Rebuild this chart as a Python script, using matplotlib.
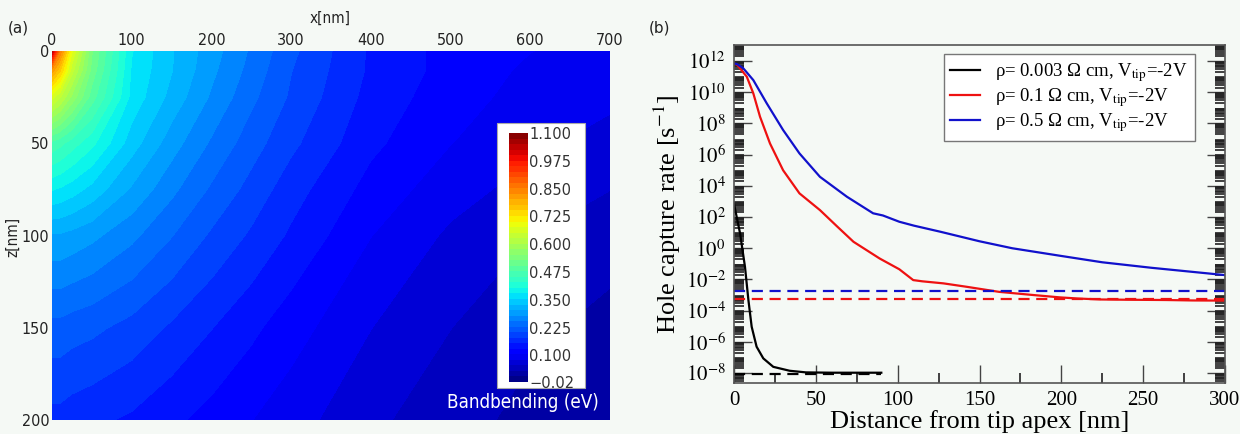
import numpy as np
import matplotlib.pyplot as plt
from matplotlib.patches import Rectangle
from matplotlib.ticker import LogLocator, FixedLocator, MultipleLocator, FuncFormatter, NullFormatter

# ---------------- (a) band bending map ----------------
bb_x = [0, 10, 25, 50, 100, 150, 200, 250, 300, 400, 500, 600, 700]   # nm
bb_z = [0, 10, 25, 50, 75, 100, 150, 200]                             # nm
# one list per x column, top (z=0) to bottom (z=200)
bb_x0   = [1.05, 0.82, 0.66, 0.47, 0.38, 0.30, 0.22, 0.17]
bb_x10  = [0.85, 0.76, 0.63, 0.46, 0.375, 0.30, 0.22, 0.17]
bb_x25  = [0.68, 0.64, 0.57, 0.44, 0.365, 0.295, 0.215, 0.165]
bb_x50  = [0.53, 0.52, 0.49, 0.41, 0.345, 0.285, 0.21, 0.16]
bb_x100 = [0.38, 0.375, 0.37, 0.34, 0.30, 0.26, 0.195, 0.15]
bb_x150 = [0.33, 0.33, 0.32, 0.29, 0.26, 0.23, 0.175, 0.135]
bb_x200 = [0.29, 0.285, 0.275, 0.25, 0.225, 0.20, 0.155, 0.12]
bb_x250 = [0.25, 0.245, 0.235, 0.215, 0.195, 0.175, 0.135, 0.105]
bb_x300 = [0.21, 0.205, 0.20, 0.185, 0.165, 0.15, 0.115, 0.09]
bb_x400 = [0.15, 0.15, 0.145, 0.135, 0.12, 0.105, 0.08, 0.06]
bb_x500 = [0.12, 0.12, 0.115, 0.105, 0.09, 0.075, 0.055, 0.04]
bb_x600 = [0.105, 0.10, 0.095, 0.085, 0.07, 0.055, 0.035, 0.022]
bb_x700 = [0.095, 0.09, 0.085, 0.07, 0.055, 0.04, 0.022, 0.01]
cbar_ticks = [-0.02, 0.100, 0.225, 0.350, 0.475, 0.600, 0.725, 0.850, 0.975, 1.100]
cbar_labels = ["\u22120.02", "0.100", "0.225", "0.350", "0.475", "0.600", "0.725", "0.850", "0.975", "1.100"]

# ---------------- (b) hole capture rate ----------------
black_x = [0, 1.5, 3.7, 6.7, 8.8, 10.8, 13.8, 17.9, 24, 34, 44, 60, 75, 90]
black_y = [7e2, 1.2e2, 9.0, 6.5e-2, 4.8e-4, 9.3e-6, 4.9e-7, 8.7e-8, 2.5e-8, 1.4e-8, 1.1e-8, 1.05e-8, 1.05e-8, 1.05e-8]

red_x = [0, 2, 7.8, 11.8, 15.9, 22, 30, 40, 52.5, 63, 73, 89, 101, 109.5, 115, 128, 142, 162, 183, 199, 210, 224, 240, 264, 280, 300]
red_y = [7.1e11, 5.6e11, 1.0e11, 8.5e9, 2.7e8, 5.2e6, 1.0e5, 3.3e3, 280, 25, 2.6, 0.22, 0.045, 9.1e-3, 7.6e-3,
         5.6e-3, 3.4e-3, 1.6e-3, 1.0e-3, 7.1e-4, 6.0e-4, 5.2e-4, 5.0e-4, 4.8e-4, 4.5e-4, 4.4e-4]

blue_x = [0, 2, 5.7, 11.8, 20, 30, 40, 52.5, 69, 85, 91, 101, 110, 126, 150, 170, 200, 225, 255, 300]
blue_y = [7.1e11, 6.3e11, 3.4e11, 6.0e10, 1.95e9, 3.8e7, 1.2e6, 3.8e4, 2.0e3, 174, 126, 50, 28, 11.5, 2.8, 1.0,
          0.32, 0.126, 0.056, 0.019]

black_dash = 9e-9
red_dash = 5.2e-4
blue_dash = 1.9e-3

labels = [r"ρ= 0.003 Ω cm, V$_{\rm tip}$=-2V",
          r"ρ= 0.1 Ω cm, V$_{\rm tip}$=-2V",
          r"ρ= 0.5 Ω cm, V$_{\rm tip}$=-2V"]

plt.rcParams['mathtext.fontset'] = 'stix'
bg = '#f5f9f5'

fig = plt.figure(figsize=(12.4, 4.34), dpi=100, facecolor=bg)

# ================= panel (a) =================
ax1 = fig.add_axes([52/1240, 1-420/434, 558/1240, 369/434])
field = np.array([bb_x0, bb_x10, bb_x25, bb_x50, bb_x100, bb_x150, bb_x200,
                  bb_x250, bb_x300, bb_x400, bb_x500, bb_x600, bb_x700]).T
levels = np.linspace(-0.02, 1.1, 46)
cs = ax1.contourf(bb_x, bb_z, field, levels=levels, cmap='jet', vmin=-0.02, vmax=1.1)
ax1.set_xlim(0, 700)
ax1.set_ylim(200, 0)
ax1.xaxis.tick_top()
ax1.set_xticks(np.arange(0, 701, 100))
ax1.set_yticks([0, 50, 100, 150, 200])
ax1.tick_params(length=0, labelsize=11.5, colors='#222222', pad=2)
for lab in ax1.get_xticklabels() + ax1.get_yticklabels():
    lab.set_fontstretch('condensed')
for s in ax1.spines.values():
    s.set_visible(False)
fig.text(330/1240, 1-18/434, "x[nm]", fontsize=11, color='#222222', ha='center', va='center',
         fontstretch='condensed')
fig.text(13/1240, 1-237/434, "z[nm]", fontsize=11, color='#222222', ha='center', va='center',
         rotation=90, fontstretch='condensed')
fig.text(18/1240, 1-28/434, "(a)", fontsize=11, color='#222222', ha='center', va='center')

# colorbar inside the map
fig.patches.append(Rectangle((497/1240, 1-388/434), 88/1240, 265/434, transform=fig.transFigure,
                             facecolor='white', edgecolor='#aaaaaa', lw=0.8, zorder=2))
cax = fig.add_axes([509/1240, 1-382/434, 19/1240, 249/434], zorder=3)
cb = fig.colorbar(cs, cax=cax, ticks=cbar_ticks)
cb.ax.set_yticklabels(cbar_labels)
cb.ax.tick_params(length=0, labelsize=10.5, colors='#333333', pad=1)
cb.outline.set_visible(False)
ax1.text(447/1240, 1-402/434, "Bandbending (eV)", transform=fig.transFigure, color='white',
         fontsize=13.5, ha='left', va='center', clip_on=True, fontstretch='condensed')

# ================= panel (b) =================
serif = 'Liberation Serif'
ax2 = fig.add_axes([734/1240, 1-383/434, 491/1240, 338/434], facecolor=bg)
l1, = ax2.plot(black_x, black_y, color='black', lw=1.6, label=labels[0])
l2, = ax2.plot(red_x, red_y, color='#ee1111', lw=1.6, label=labels[1])
l3, = ax2.plot(blue_x, blue_y, color='#1111cc', lw=1.6, label=labels[2])
ax2.plot([0, 90], [black_dash, black_dash], color='black', lw=1.6, ls=(0, (5, 3)))
ax2.plot([0, 300], [red_dash, red_dash], color='#ee1111', lw=1.6, ls=(0, (5, 3)))
ax2.plot([0, 300], [blue_dash, blue_dash], color='#1111cc', lw=1.6, ls=(0, (5, 3)))
ax2.set_yscale('log')
ax2.set_xlim(0, 300)
ax2.set_ylim(2.3e-9, 1.07e13)
ax2.yaxis.set_major_locator(FixedLocator([10.0**k for k in range(-8, 13, 2)]))
ax2.yaxis.set_major_formatter(FuncFormatter(lambda v, p: r"$10^{%d}$" % int(round(np.log10(v)))))
ax2.yaxis.set_minor_locator(LogLocator(base=10, subs=np.arange(2, 10), numticks=60))
ax2.yaxis.set_minor_formatter(NullFormatter())
ax2.xaxis.set_major_locator(MultipleLocator(50))
ax2.xaxis.set_minor_locator(MultipleLocator(25))
ax2.tick_params(which='major', direction='in', length=13, width=1.0, color='#444444',
                labelsize=15, right=True, top=False, pad=6)
ax2.tick_params(which='minor', direction='in', length=7, width=1.2, color='#222222',
                right=True, top=False)
for lab in ax2.get_xticklabels() + ax2.get_yticklabels():
    lab.set_fontfamily(serif)
for s in ax2.spines.values():
    s.set_color('#555555')
    s.set_linewidth(1.2)
ax2.set_xlabel("Distance from tip apex [nm]", fontsize=19, family=serif, labelpad=0)
ax2.set_ylabel(r"Hole capture rate [s$^{-1}$]", fontsize=19, family=serif, labelpad=2)
leg = ax2.legend(handles=[l1, l2, l3], loc='upper right', bbox_to_anchor=(0.957, 1.0),
                 prop={'family': serif, 'size': 13.5}, fancybox=False, edgecolor='#777777',
                 framealpha=1, facecolor='white', handlelength=1.6, handletextpad=0.8,
                 borderpad=0.35, labelspacing=0.12)
leg.get_frame().set_linewidth(1.0)
fig.text(660/1240, 1-28/434, "(b)", fontsize=11, color='#222222', ha='center', va='center')

fig.savefig("out.png", dpi=100, facecolor=bg)
